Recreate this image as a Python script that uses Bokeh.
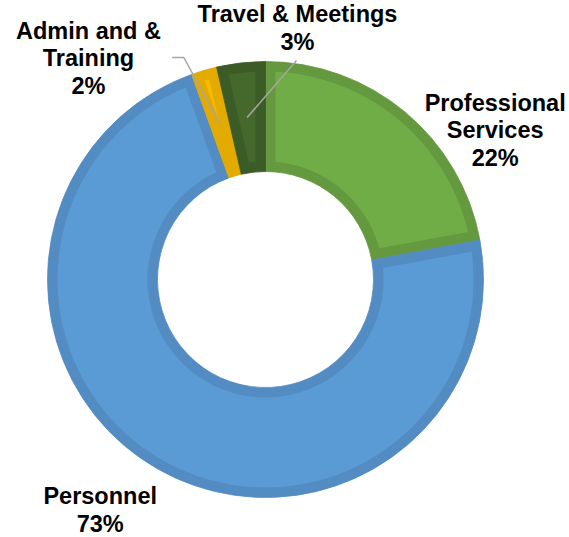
import numpy as np
from bokeh.plotting import figure
from bokeh.models import Range1d
from bokeh.embed import file_html
from bokeh.resources import INLINE
from bokeh.core.properties import value

# ---- data ----
categories = ["Professional Services", "Personnel", "Admin and & Training", "Travel & Meetings"]
shares = [22.1, 72.4, 1.9, 3.6]
pct_labels = ["22%", "73%", "2%", "3%"]
label_lines = [["Professional", "Services"], ["Personnel"], ["Admin and &", "Training"], ["Travel & Meetings"]]

# ---- styles ----
fill_colors = ["#70AD47", "#5B9BD5", "#F7BA00", "#45692C"]
border_colors = ["#64993F", "#538CC2", "#E3AA00", "#3B5C26"]

W, H = 569, 537
PAGE_H = 537
cx, cy = 265, PAGE_H - 279
R_OUT, R_IN, BW = 218, 108, 10
FONT = "23.5px"
LINE_GAP = 27.8
TEXT_SHIFT = -8.0   # compensate renderer baseline offset

# label anchors: (center x, first baseline y) in page pixels
label_pos = [(494.7, 110.0), (99.7, 503.5), (88.0, 38.0), (297.0, 21.7)]
# leader anchors in page pixels (None = no leader)
leader_start = [None, None, [(171.7, 57.0), (183.3, 57.0)], [(296.0, 60.0)]]

frac = np.array(shares) / sum(shares)
cum = np.concatenate([[0.0], np.cumsum(frac)])
start = np.pi / 2 - 2 * np.pi * cum[1:]
end = np.pi / 2 - 2 * np.pi * cum[:-1]

p = figure(width=W, height=H, output_backend="svg", toolbar_location=None,
           x_range=Range1d(0, W), y_range=Range1d(PAGE_H - H, PAGE_H),
           min_border=0)
p.axis.visible = False
p.grid.visible = False
p.outline_line_color = None
p.background_fill_color = "white"
p.border_fill_color = "white"

# dark border rings
p.annular_wedge(x=cx, y=cy, inner_radius=R_IN, outer_radius=R_OUT,
                start_angle=list(start), end_angle=list(end),
                fill_color=border_colors, line_color=border_colors, line_width=0.8)

# lighter inner fills (inset by the border width)
def inset(a0, a1):
    ro, ri = R_OUT - BW, R_IN + BW
    d = a1 - a0
    off = lambda rho: np.arcsin(min(BW / rho, 1.0))
    if 2 * off(ro) >= d:
        return None
    t = np.linspace(a0 + off(ro), a1 - off(ro), 80)
    xs = list(cx + ro * np.cos(t))
    ys = list(cy + ro * np.sin(t))
    if 2 * off(ri) < d:
        t2 = np.linspace(a1 - off(ri), a0 + off(ri), 80)
        xs += list(cx + ri * np.cos(t2))
        ys += list(cy + ri * np.sin(t2))
    else:
        rs = BW / np.sin(d / 2)
        m = (a0 + a1) / 2
        xs.append(cx + rs * np.cos(m))
        ys.append(cy + rs * np.sin(m))
    return xs, ys

pxs, pys, pcs = [], [], []
for a0, a1, c in zip(start, end, fill_colors):
    r = inset(a0, a1)
    if r is not None:
        pxs.append(r[0]); pys.append(r[1]); pcs.append(c)
p.patches(xs=pxs, ys=pys, fill_color=pcs, line_color=None)

# leader lines
lx, ly = [], []
r_mid = (R_OUT + R_IN) / 2
for i, pts in enumerate(leader_start):
    if pts is None:
        continue
    m = (start[i] + end[i]) / 2
    xs = [q[0] for q in pts] + [cx + r_mid * np.cos(m)]
    ys = [PAGE_H - q[1] for q in pts] + [cy + r_mid * np.sin(m)]
    lx.append(xs); ly.append(ys)
p.multi_line(xs=lx, ys=ly, line_color="#A6A6A6", line_width=1.5)

# labels
tx, ty, tt = [], [], []
for (x0, y0), lines, pct in zip(label_pos, label_lines, pct_labels):
    for k, s in enumerate(lines + [pct]):
        tx.append(x0)
        ty.append(PAGE_H - (y0 + k * LINE_GAP + TEXT_SHIFT))
        tt.append(s)
p.text(x=tx, y=ty, text=tt, text_font=value("Liberation Sans"), text_font_style="bold",
       text_font_size=FONT, text_align="center", text_baseline="alphabetic", text_color="black")

open("out.html", "w").write(file_html(p, INLINE))
